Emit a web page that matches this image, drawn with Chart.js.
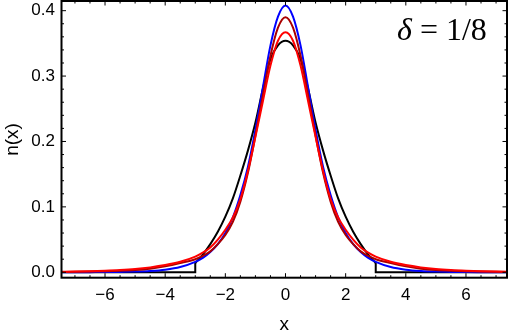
<!DOCTYPE html>
<html>
<head>
<meta charset="utf-8">
<script src="https://cdn.jsdelivr.net/npm/chart.js@4.4.0/dist/chart.umd.min.js"></script>
<style>
  html, body { margin: 0; padding: 0; background: #fff; }
</style>
</head>
<body>
<canvas id="myChart" width="511" height="334"></canvas>
<script>
// x grid shared by the three smooth curves
const xs = [-7.5, -7, -6.5, -6, -5.5, -5, -4.5, -4, -3.5, -3, -2.75, -2.5, -2.25, -2, -1.75, -1.5, -1.25, -1, -0.75, -0.5, -0.25,
  0, 0.25, 0.5, 0.75, 1, 1.25, 1.5, 1.75, 2, 2.25, 2.5, 2.75, 3, 3.5, 4, 4.5, 5, 5.5, 6, 6.5, 7, 7.5];

const blueN = [0.0001, 0.0001, 0.0002, 0.0003, 0.0006, 0.001, 0.002, 0.004, 0.008, 0.016, 0.022, 0.031, 0.043, 0.060, 0.084, 0.118, 0.161, 0.218, 0.283, 0.347, 0.391,
  0.408, 0.391, 0.347, 0.283, 0.218, 0.161, 0.118, 0.084, 0.060, 0.043, 0.031, 0.022, 0.016, 0.008, 0.004, 0.002, 0.001, 0.0006, 0.0003, 0.0002, 0.0001, 0.0001];

const darkRedN = [0.0005, 0.0007, 0.001, 0.0015, 0.0023, 0.0035, 0.0055, 0.009, 0.014, 0.020, 0.025, 0.032, 0.043, 0.057, 0.077, 0.108, 0.152, 0.209, 0.271, 0.331, 0.374,
  0.390, 0.374, 0.331, 0.271, 0.209, 0.152, 0.108, 0.077, 0.057, 0.043, 0.032, 0.025, 0.020, 0.014, 0.009, 0.0055, 0.0035, 0.0023, 0.0015, 0.001, 0.0007, 0.0005];

const redN = [0.0007, 0.001, 0.0015, 0.0023, 0.0034, 0.005, 0.0075, 0.011, 0.016, 0.024, 0.030, 0.038, 0.050, 0.065, 0.084, 0.112, 0.155, 0.207, 0.262, 0.316, 0.354,
  0.367, 0.354, 0.316, 0.262, 0.207, 0.155, 0.112, 0.084, 0.065, 0.050, 0.038, 0.030, 0.024, 0.016, 0.011, 0.0075, 0.005, 0.0034, 0.0023, 0.0015, 0.001, 0.0007];

// black curve lives on [-3, 3] and drops straight to zero there
const blackX = [-3, -2.75, -2.5, -2.25, -2, -1.75, -1.5, -1.25, -1, -0.75, -0.5, -0.25, 0, 0.25, 0.5, 0.75, 1, 1.25, 1.5, 1.75, 2, 2.25, 2.5, 2.75, 3];
const blackN = [0.014, 0.027, 0.043, 0.062, 0.085, 0.113, 0.148, 0.186, 0.229, 0.281, 0.326, 0.347, 0.354, 0.347, 0.326, 0.281, 0.229, 0.186, 0.148, 0.113, 0.085, 0.062, 0.043, 0.027, 0.014];
const blackEdgeX = [-7.5, -3, -3, 0, 3, 3, 7.5];
const blackEdgeN = [0, 0, 0.014, null, 0.014, 0, 0];

const xTicks = [-6, -4, -2, 0, 2, 4, 6];
const yTicks = [0, 0.1, 0.2, 0.3, 0.4];

function pts(xArr, yArr) {
    return xArr.map((x, i) => ({ x: x, y: yArr[i] }));
}

function curve(data, color) {
    return {
        data: data,
        borderColor: color,
        borderWidth: 2,
        pointRadius: 0,
        fill: false,
        cubicInterpolationMode: 'monotone'
    };
}

// frame, inward ticks and the text labels, Mathematica style
const frame = {
    id: 'frame',
    afterDraw(chart) {
        const { ctx, chartArea: a, scales: { x, y } } = chart;
        ctx.save();
        ctx.strokeStyle = '#000';
        ctx.lineWidth = 1;
        ctx.beginPath();
        for (let v = -7; v <= 7.01; v += 0.5) {
            let px = x.getPixelForValue(v);
            let len = (Math.abs(v % 2) < 0.01) ? 4.5 : 2.5;
            ctx.moveTo(px, a.bottom); ctx.lineTo(px, a.bottom - len);
            ctx.moveTo(px, a.top); ctx.lineTo(px, a.top + len);
        }
        for (let k = 0; k <= 20; k++) {
            let v = k * 0.02;
            let py = y.getPixelForValue(v);
            let len = (k % 5 === 0) ? 4.5 : 2.5;
            ctx.moveTo(a.left, py); ctx.lineTo(a.left + len, py);
            ctx.moveTo(a.right, py); ctx.lineTo(a.right - len, py);
        }
        ctx.stroke();
        ctx.lineWidth = 2;
        ctx.strokeRect(a.left, a.top, a.right - a.left, a.bottom - a.top);

        ctx.fillStyle = '#000';
        ctx.font = '19px "Liberation Sans", Arial, sans-serif';
        ctx.textAlign = 'center';
        ctx.textBaseline = 'middle';
        ctx.fillText('x', (a.left + a.right) / 2, 325);
        ctx.translate(12.5, 139.5);
        ctx.rotate(-Math.PI / 2);
        ctx.fillText('n(x)', 0, 0);
        ctx.restore();

        ctx.save();
        ctx.fillStyle = '#000';
        ctx.textBaseline = 'alphabetic';
        ctx.textAlign = 'left';
        ctx.font = 'italic 32px "Liberation Serif", "Times New Roman", serif';
        let tx = 397;
        ctx.fillText('δ', tx, 40);
        tx += ctx.measureText('δ').width;
        ctx.font = '32px "Liberation Serif", "Times New Roman", serif';
        ctx.fillText(' = 1/8', tx, 40);
        ctx.restore();
    }
};

const config = {
    type: 'line',
    data: {
        datasets: [
            curve(pts(xs, redN), 'rgb(255, 0, 0)'),
            curve(pts(xs, darkRedN), 'rgb(170, 0, 0)'),
            curve(pts(xs, blueN), 'rgb(0, 0, 255)'),
            curve(pts(blackX, blackN), 'rgb(0, 0, 0)'),
            {
                data: pts(blackEdgeX, blackEdgeN),
                borderColor: 'rgb(0, 0, 0)',
                borderWidth: 2,
                pointRadius: 0,
                fill: false,
                tension: 0,
                spanGaps: false
            }
        ]
    },
    options: {
        responsive: false,
        devicePixelRatio: 1,
        animation: false,
        layout: { padding: { top: 1, right: 4, left: 0, bottom: 0 } },
        plugins: {
            legend: { display: false },
            tooltip: { enabled: false }
        },
        scales: {
            x: {
                type: 'linear',
                min: -7.447,
                max: 7.364,
                grid: { display: false, drawTicks: false },
                border: { display: false },
                afterBuildTicks: (s) => { s.ticks = xTicks.map(v => ({ value: v })); },
                afterFit: (s) => { s.height = 56.3; s.paddingLeft = 0; s.paddingRight = 0; },
                ticks: {
                    padding: 7,
                    color: '#000',
                    font: { family: '"Liberation Sans", Arial, sans-serif', size: 17 },
                    maxRotation: 0,
                    callback: (v) => (v < 0 ? '\u2212' + Math.abs(v) : String(v))
                }
            },
            y: {
                type: 'linear',
                min: -0.0083,
                max: 0.4148,
                grid: { display: false, drawTicks: false },
                border: { display: false },
                afterBuildTicks: (s) => { s.ticks = yTicks.map(v => ({ value: v })); },
                afterFit: (s) => { s.width = 61.5; s.paddingTop = 0; s.paddingBottom = 0; },
                ticks: {
                    padding: 6.5,
                    color: '#000',
                    font: { family: '"Liberation Sans", Arial, sans-serif', size: 17 },
                    callback: (v) => v.toFixed(1)
                }
            }
        }
    },
    plugins: [frame]
};

let chart = new Chart(document.getElementById('myChart'), config);
</script>
</body>
</html>
